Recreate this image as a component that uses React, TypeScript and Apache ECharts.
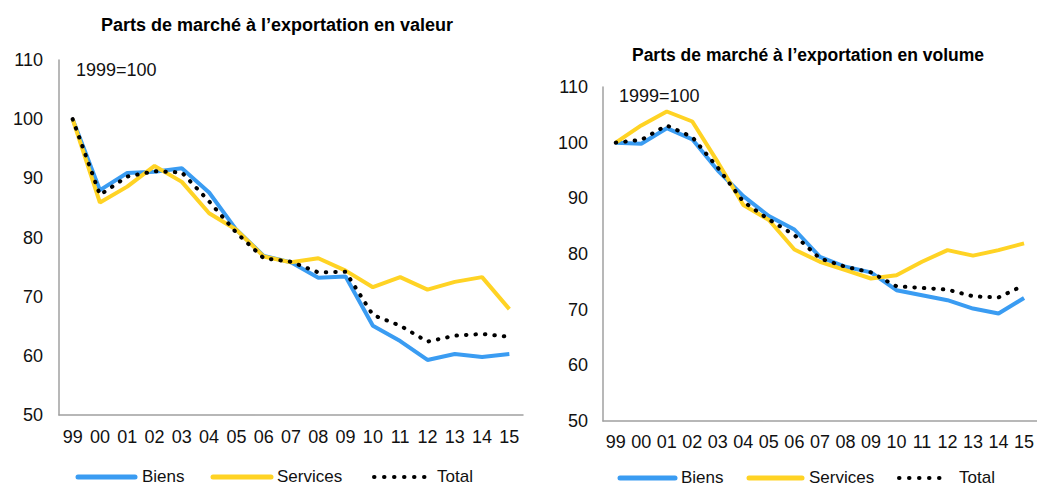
import React, { useEffect, useRef } from "react";
import * as echarts from "echarts";

const years = ["99", "00", "01", "02", "03", "04", "05", "06", "07", "08", "09", "10", "11", "12", "13", "14", "15"];

const valeurBiens = [100, 88.0, 90.9, 91.1, 91.7, 87.6, 81.3, 76.9, 75.8, 73.2, 73.4, 65.1, 62.5, 59.3, 60.3, 59.8, 60.3];
const valeurServices = [100, 85.9, 88.6, 92.1, 89.4, 84.1, 81.3, 76.8, 75.8, 76.5, 74.4, 71.6, 73.3, 71.2, 72.5, 73.3, 67.9];
const valeurTotal = [100, 87.2, 90.3, 91.2, 91.0, 86.1, 80.8, 76.5, 75.9, 74.1, 74.2, 66.9, 65.1, 62.4, 63.4, 63.7, 63.2];

const volumeBiens = [100, 99.8, 102.6, 100.6, 95.0, 90.4, 86.8, 84.4, 79.5, 77.7, 76.7, 73.5, 72.6, 71.7, 70.2, 69.3, 72.1];
const volumeServices = [100, 103.1, 105.6, 103.8, 96.5, 88.8, 86.1, 80.8, 78.6, 77.1, 75.6, 76.2, 78.6, 80.7, 79.7, 80.7, 81.9];
const volumeTotal = [100, 100.5, 103.1, 101.0, 95.5, 89.4, 86.2, 83.4, 79.2, 77.7, 76.7, 74.2, 73.9, 73.6, 72.4, 72.2, 74.4];

const titles = ["Parts de marché à l’exportation en valeur", "Parts de marché à l’exportation en volume"];
const seriesNames = ["Biens", "Services", "Total"];
const baseNote = "1999=100";

const BLUE = "#3A9CF2";
const YELLOW = "#FFD324";
const FONT = "Liberation Sans, Arial, sans-serif";
const LABEL_SIZE = 18;

export default function App() {
  const ref = useRef<HTMLDivElement>(null);
  useEffect(() => {
    if (!ref.current) return;
    const chart = echarts.init(ref.current, null, { renderer: "svg" });
    const grids = [
      { left: 59, top: 60, width: 464, height: 355 },
      { left: 603, top: 87, width: 436, height: 334 },
    ];
    const data = [
      [valeurBiens, valeurServices, valeurTotal],
      [volumeBiens, volumeServices, volumeTotal],
    ];
    const lineStyles: any[] = [
      { color: BLUE, width: 4, type: "solid" },
      { color: YELLOW, width: 4, type: "solid" },
      { color: "#000", width: 4, type: [0.5, 9], cap: "round" },
    ];
    const series: any[] = [];
    for (let g = 0; g < 2; g++) {
      for (let s = 0; s < 3; s++) {
        series.push({
          type: "line",
          name: seriesNames[s],
          xAxisIndex: g,
          yAxisIndex: g,
          data: data[g][s],
          showSymbol: false,
          symbol: "none",
          itemStyle: { color: lineStyles[s].color },
          lineStyle: lineStyles[s],
          z: s === 2 ? 5 : 3,
        });
      }
    }
    const axisLabel = { color: "#111", fontSize: LABEL_SIZE, fontFamily: FONT };
    const axisLine = { show: true, lineStyle: { color: "#A0A0A0", width: 1.5 } };

    // manual legends: [lineStart, lineEnd, textX] per item, per panel
    const legendLayout = [
      { y: 477, items: [[78, 135, 142], [213, 271, 277], [374, 425, 437]] },
      { y: 478, items: [[620, 675, 681], [749, 802, 809], [899, 948, 959]] },
    ];
    const legendGraphics: any[] = [];
    legendLayout.forEach((lg) => {
      lg.items.forEach(([x1, x2, tx], i) => {
        const ls = lineStyles[i];
        legendGraphics.push({
          type: "line",
          shape: { x1, y1: lg.y, x2, y2: lg.y },
          style: {
            stroke: ls.color,
            lineWidth: i === 2 ? 4 : 5,
            lineDash: i === 2 ? [0.5, 9.5] : null,
            lineCap: "round",
          },
        });
        legendGraphics.push({
          type: "text",
          x: tx,
          y: lg.y - 1,
          style: { text: seriesNames[i], fontSize: 17, fill: "#111", fontFamily: FONT, verticalAlign: "middle" },
        });
      });
    });

    chart.setOption({
      animation: false,
      title: [
        { text: titles[0], left: 272, top: 11, textAlign: "center", textStyle: { fontSize: 18, fontWeight: "bold", color: "#000", fontFamily: FONT } },
        { text: titles[1], left: 803, top: 41, textAlign: "center", textStyle: { fontSize: 17.5, fontWeight: "bold", color: "#000", fontFamily: FONT } },
      ],
      grid: grids,
      xAxis: [0, 1].map((g) => ({
        type: "category",
        gridIndex: g,
        data: years,
        boundaryGap: true,
        axisLine,
        axisTick: { show: false },
        axisLabel: { ...axisLabel, margin: g === 0 ? 13 : 12, interval: 0 },
        splitLine: { show: false },
      })),
      yAxis: [0, 1].map((g) => ({
        type: "value",
        gridIndex: g,
        min: 50,
        max: 110,
        interval: 10,
        axisLine,
        axisTick: { show: false },
        axisLabel: { ...axisLabel, margin: g === 0 ? 16 : 15 },
        splitLine: { show: false },
      })),
      graphic: [
        { type: "text", x: 76, y: 70, style: { text: baseNote, fontSize: LABEL_SIZE, fill: "#111", fontFamily: FONT, verticalAlign: "middle" } },
        { type: "text", x: 619, y: 96, style: { text: baseNote, fontSize: LABEL_SIZE, fill: "#111", fontFamily: FONT, verticalAlign: "middle" } },
        ...legendGraphics,
      ],
      series,
    });
    return () => chart.dispose();
  }, []);
  return <div ref={ref} style={{ position: "absolute", left: 0, top: 0, width: 1037, height: 486 }} />;
}
